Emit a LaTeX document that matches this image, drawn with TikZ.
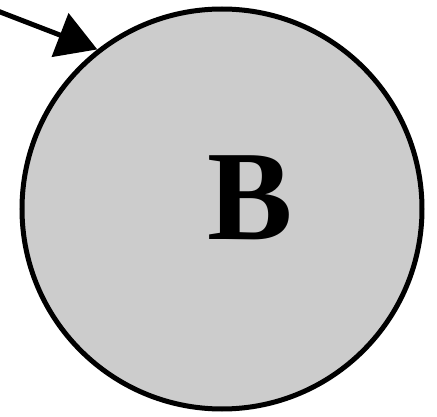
\documentclass[tikz,border=0pt]{standalone}
\usepackage{fontspec}
\setmainfont{Liberation Serif}
\usetikzlibrary{arrows.meta}
\begin{document}
\begin{tikzpicture}[x=1pt,y=-1pt,
  state/.style={circle,draw=black,line width=5pt,fill=gray!40,minimum size=400pt,inner sep=0pt},
  link/.style={line width=5pt,-{Triangle[length=40pt,width=46pt]}}]
\useasboundingbox (0,0) rectangle (437,417);
\node[state] (B) at (222,209) {};
\node[font=\fontsize{128}{128}\bfseries\selectfont] (lbl) at (250,198) {B};
\coordinate (s) at (-5,10);
\draw[link] (s) -- (B.128);
\end{tikzpicture}
\end{document}
